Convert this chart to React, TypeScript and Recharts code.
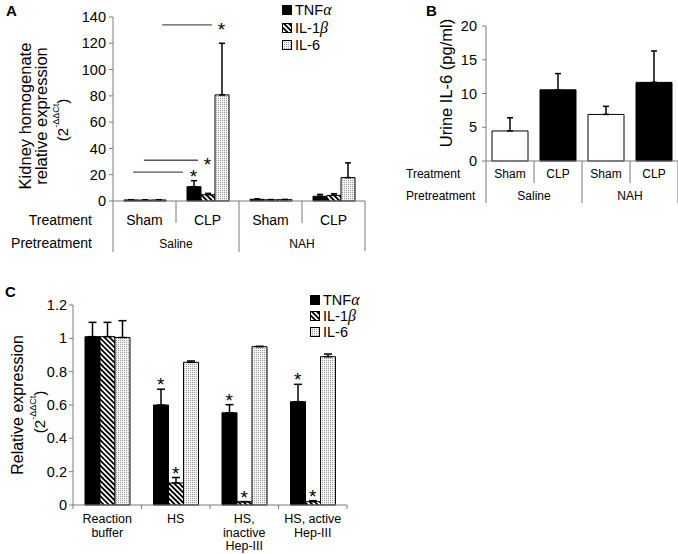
import React from 'react';
import { BarChart, Bar, XAxis, YAxis, ErrorBar, Cell, ReferenceLine, ReferenceDot, Legend } from 'recharts';

// ---------------- Panel A data ----------------
const aKeys = ['saline-sham', 'saline-clp', 'nah-sham', 'nah-clp'];
const aTreatment = ['Sham', 'CLP', 'Sham', 'CLP'];
const aPretreatment = ['Saline', 'NAH'];
const aTnf = [0.8, 10.9, 1.3, 3.6];
const aTnfTop = [1.0, 15.5, 1.6, 5.0];
const aIl1b = [0.7, 4.8, 0.9, 4.3];
const aIl1bTop = [0.9, 5.8, 1.1, 5.5];
const aIl6 = [0.8, 80.7, 1.0, 17.8];
const aIl6Top = [1.0, 120, 1.2, 29];
const aTicks = [0, 20, 40, 60, 80, 100, 120, 140];
// significance lines: from/to in category units, y in data units, star above series bar of category
const aSig = [
  { from: 0.32, to: 1.11, y: 22, cat: 1, series: 0 },
  { from: 0.49, to: 1.35, y: 31, cat: 1, series: 1 },
  { from: 0.78, to: 1.57, y: 134, cat: 1, series: 2 },
];

// ---------------- Panel B data ----------------
const bKeys = ['saline-sham', 'saline-clp', 'nah-sham', 'nah-clp'];
const bTreatment = ['Sham', 'CLP', 'Sham', 'CLP'];
const bPretreatment = ['Saline', 'NAH'];
const bValues = [4.45, 10.55, 6.9, 11.65];
const bTop = [6.4, 12.95, 8.1, 16.3];
const bFills = ['#ffffff', '#000000', '#ffffff', '#000000'];
const bTicks = [0, 5, 10, 15, 20];

// ---------------- Panel C data ----------------
const cCategories = ['Reaction\nbuffer', 'HS', 'HS,\ninactive\nHep-III', 'HS, active\nHep-III'];
const cTnf = [1.01, 0.6, 0.553, 0.62];
const cTnfTop = [1.096, 0.695, 0.602, 0.724];
const cIl1b = [1.01, 0.132, 0.02, 0.02];
const cIl1bTop = [1.096, 0.165, 0.02, 0.026];
const cIl6 = [1.005, 0.856, 0.95, 0.89];
const cIl6Top = [1.106, 0.864, 0.952, 0.906];
const cTnfStar = [false, true, true, true];
const cIl1bStar = [false, true, true, true];
const cIl6Star = [false, false, false, false];
const cTicks = [0, 0.2, 0.4, 0.6, 0.8, 1, 1.2];

const seriesNames = ['TNFα', 'IL-1β', 'IL-6'];

// ---------------- layout / style ----------------
const FONT = '"Liberation Sans", Arial, Helvetica, sans-serif';
const AXIS = '#7a7a7a';
const YW = 40; // y axis box width
const XH = 40; // x axis box height

const A_W = 370, A_H = 270;
const A_PLOT = { top: 17, right: 5, bottom: 69, left: 113 };
const A_M = { top: A_PLOT.top, right: A_PLOT.right, bottom: A_PLOT.bottom - XH, left: A_PLOT.left - YW };
const A_BAR = 14;
const A_BAND = (A_W - A_PLOT.left - A_PLOT.right) / aKeys.length;

const B_W = 340, B_H = 215;
const B_PLOT = { top: 26, right: 2, bottom: 54, left: 146 };
const B_M = { top: B_PLOT.top, right: B_PLOT.right, bottom: B_PLOT.bottom - XH, left: B_PLOT.left - YW };
const B_BAR = 36;
const B_BAND = (B_W - B_PLOT.left - B_PLOT.right) / bKeys.length;

const C_W = 360, C_H = 274;
const C_PLOT = { top: 25, right: 13, bottom: 49, left: 73 };
const C_M = { top: C_PLOT.top, right: C_PLOT.right, bottom: C_PLOT.bottom - XH, left: C_PLOT.left - YW };
const C_BAR = 15;
const C_BAND = (C_W - C_PLOT.left - C_PLOT.right) / cCategories.length;

const aData = aKeys.map((k, i) => ({
  key: k,
  pos: i + 0.5,
  tnf: aTnf[i], tnfErr: [0, aTnfTop[i] - aTnf[i]],
  il1b: aIl1b[i], il1bErr: [0, aIl1bTop[i] - aIl1b[i]],
  il6: aIl6[i], il6Err: [0, aIl6Top[i] - aIl6[i]],
}));
const bData = bKeys.map((k, i) => ({ key: k, v: bValues[i], err: [0, bTop[i] - bValues[i]] }));
const cData = cCategories.map((k, i) => ({
  key: k,
  pos: i + 0.5,
  tnf: cTnf[i], tnfErr: [0, cTnfTop[i] - cTnf[i]],
  il1b: cIl1b[i], il1bErr: [0, cIl1bTop[i] - cIl1b[i]],
  il6: cIl6[i], il6Err: [0, cIl6Top[i] - cIl6[i]],
}));

const cStars: { x: number; y: number }[] = [];
[[cTnfStar, cTnfTop], [cIl1bStar, cIl1bTop], [cIl6Star, cIl6Top]].forEach(([flags, tops]: any, s) => {
  flags.forEach((f: boolean, i: number) => {
    if (f) cStars.push({ x: i + 0.5 + ((s - 1) * C_BAR) / C_BAND, y: tops[i] });
  });
});

const patternDefs = (id: string) => (
  <defs>
    <pattern id={`hatch${id}`} patternUnits="userSpaceOnUse" width={3.6} height={3.6} patternTransform="rotate(-45)">
      <rect width={3.6} height={3.6} fill="#fff" />
      <rect width={1.8} height={3.6} fill="#000" />
    </pattern>
    <pattern id={`dots${id}`} patternUnits="userSpaceOnUse" width={2} height={2}>
      <rect width={2} height={2} fill="#f4f4f4" />
      <rect width={1} height={1} fill="#9a9a9a" />
    </pattern>
  </defs>
);

const starShape = (shift: number) => (p: any) => (
  <text x={p.cx} y={p.cy - shift + 11} textAnchor="middle" fontSize={19} fontFamily={FONT} fill="#000">*</text>
);

function renderName(name: string) {
  const last = name.slice(-1);
  if (/[α-ω]/.test(last)) {
    return (
      <span>
        {name.slice(0, -1)}
        <i style={{ fontFamily: '"Liberation Serif", "DejaVu Serif", serif', fontSize: 16 }}>{last}</i>
      </span>
    );
  }
  return <span>{name}</span>;
}

const makeLegend = (rowH: number) => (props: any) => {
  const items = [...(props.payload || [])].sort(
    (a: any, b: any) => seriesNames.indexOf(a.value) - seriesNames.indexOf(b.value)
  );
  return (
    <div style={{ fontFamily: FONT, fontSize: 14.5, color: '#000' }}>
      {items.map((p: any) => (
        <div key={p.value} style={{ display: 'flex', alignItems: 'center', height: rowH, whiteSpace: 'nowrap' }}>
          <svg width={10} height={10} style={{ marginRight: 3, display: 'block' }}>
            <rect x={0.5} y={0.5} width={9} height={9} fill={p.color || (p.payload && p.payload.fill)} stroke="#000" />
          </svg>
          {renderName(p.value)}
        </div>
      ))}
    </div>
  );
};

function ATick(props: any) {
  const { x, y, payload } = props;
  const i = payload.index;
  const xl = x - A_BAND / 2;
  const xr = x + A_BAND / 2;
  const n = aTreatment.length;
  return (
    <g fontFamily={FONT}>
      <line x1={xl} x2={xl} y1={y} y2={y + (i % 2 === 0 ? 51 : 22)} stroke={AXIS} />
      {i === n - 1 && <line x1={xr} x2={xr} y1={y} y2={y + 50} stroke={AXIS} />}
      <text x={x} y={y + 19} textAnchor="middle" dominantBaseline="central" fontSize={14} fill="#000">{aTreatment[i]}</text>
      {i % 2 === 0 && (
        <text x={xr} y={y + 43} textAnchor="middle" dominantBaseline="central" fontSize={12} fill="#000">{aPretreatment[i / 2]}</text>
      )}
      {i === 0 && (
        <>
          <text x={xl - 21} y={y + 19} textAnchor="end" dominantBaseline="central" fontSize={14} fill="#000">Treatment</text>
          <text x={xl - 21} y={y + 42} textAnchor="end" dominantBaseline="central" fontSize={14} fill="#000">Pretreatment</text>
        </>
      )}
    </g>
  );
}

function BTick(props: any) {
  const { x, y, payload } = props;
  const i = payload.index;
  const xl = x - B_BAND / 2;
  const xr = x + B_BAND / 2;
  const n = bTreatment.length;
  return (
    <g fontFamily={FONT}>
      <line x1={xl} x2={xl} y1={y} y2={y + (i % 2 === 0 ? 42 : 22)} stroke={AXIS} />
      {i === n - 1 && <line x1={xr} x2={xr} y1={y} y2={y + 42} stroke={AXIS} />}
      <text x={x} y={y + 13} textAnchor="middle" dominantBaseline="central" fontSize={12} fill="#000">{bTreatment[i]}</text>
      {i % 2 === 0 && (
        <text x={xr} y={y + 35} textAnchor="middle" dominantBaseline="central" fontSize={12} fill="#000">{bPretreatment[i / 2]}</text>
      )}
      {i === 0 && (
        <>
          <text x={xl - 80} y={y + 13} textAnchor="start" dominantBaseline="central" fontSize={12} fill="#000">Treatment</text>
          <text x={xl - 80} y={y + 35} textAnchor="start" dominantBaseline="central" fontSize={12} fill="#000">Pretreatment</text>
        </>
      )}
    </g>
  );
}

function CTick(props: any) {
  const { x, y, payload } = props;
  const i = payload.index;
  const xl = x - C_BAND / 2;
  const xr = x + C_BAND / 2;
  const lines = cCategories[i].split('\n');
  return (
    <g fontFamily={FONT}>
      <line x1={xl} x2={xl} y1={y} y2={y + 4} stroke={AXIS} />
      {i === cCategories.length - 1 && <line x1={xr} x2={xr} y1={y} y2={y + 4} stroke={AXIS} />}
      {lines.map((t, k) => (
        <text key={k} x={x} y={y + 14 + k * 13.5} textAnchor="middle" dominantBaseline="central" fontSize={12.5} fill="#000">{t}</text>
      ))}
    </g>
  );
}

const yTick = { fontSize: 14.5, fill: '#000', fontFamily: FONT };

function PanelA() {
  return (
    <BarChart width={A_W} height={A_H} data={aData} margin={A_M} barGap={0} style={{ fontFamily: FONT }}>
      {patternDefs('A')}
      <XAxis dataKey="key" height={XH} tickSize={0} tickMargin={0} tickLine={false} interval={0} axisLine={{ stroke: AXIS }} tick={ATick} />
      <XAxis xAxisId="n" dataKey="pos" type="number" domain={[0, aKeys.length]} allowDataOverflow hide />
      <YAxis width={YW} domain={[0, 140]} ticks={aTicks} interval={0} tickSize={4} tickMargin={3} axisLine={{ stroke: AXIS }} tickLine={{ stroke: AXIS }} tick={yTick} />
      <Legend layout="vertical" verticalAlign="middle" align="center" wrapperStyle={{ left: 282, top: 1.25 }} content={makeLegend(17.5)} />
      <Bar dataKey="tnf" name={seriesNames[0]} fill="#000" stroke="#000" barSize={A_BAR} isAnimationActive={false}>
        <ErrorBar dataKey="tnfErr" width={3} stroke="#000" direction="y" />
      </Bar>
      <Bar dataKey="il1b" name={seriesNames[1]} fill="url(#hatchA)" stroke="#000" barSize={A_BAR} isAnimationActive={false}>
        <ErrorBar dataKey="il1bErr" width={3} stroke="#000" direction="y" />
      </Bar>
      <Bar dataKey="il6" name={seriesNames[2]} fill="url(#dotsA)" stroke="#000" barSize={A_BAR} isAnimationActive={false}>
        <ErrorBar dataKey="il6Err" width={3} stroke="#000" direction="y" />
      </Bar>
      {aSig.map((s, k) => (
        <ReferenceLine key={`l${k}`} xAxisId="n" segment={[{ x: s.from, y: s.y }, { x: s.to, y: s.y }]} stroke="#555" strokeWidth={1.3} />
      ))}
      {aSig.map((s, k) => (
        <ReferenceDot key={`s${k}`} xAxisId="n" x={s.cat + 0.5 + ((s.series - 1) * A_BAR) / A_BAND} y={s.y} r={2} shape={starShape(0)} />
      ))}
    </BarChart>
  );
}

function PanelB() {
  return (
    <BarChart width={B_W} height={B_H} data={bData} margin={B_M} style={{ fontFamily: FONT }}>
      <XAxis dataKey="key" height={XH} tickSize={0} tickMargin={0} tickLine={false} interval={0} axisLine={{ stroke: AXIS }} tick={BTick} />
      <YAxis width={YW} domain={[0, 20]} ticks={bTicks} interval={0} tickSize={4} tickMargin={5} axisLine={{ stroke: AXIS }} tickLine={{ stroke: AXIS }} tick={yTick} />
      <Bar dataKey="v" stroke="#000" barSize={B_BAR} isAnimationActive={false}>
        {bData.map((d, i) => (
          <Cell key={d.key} fill={bFills[i]} />
        ))}
        <ErrorBar dataKey="err" width={3} stroke="#000" direction="y" />
      </Bar>
    </BarChart>
  );
}

function PanelC() {
  return (
    <BarChart width={C_W} height={C_H} data={cData} margin={C_M} barGap={0} style={{ fontFamily: FONT }}>
      {patternDefs('C')}
      <XAxis dataKey="key" height={XH} tickSize={0} tickMargin={0} tickLine={false} interval={0} axisLine={{ stroke: AXIS }} tick={CTick} />
      <XAxis xAxisId="n" dataKey="pos" type="number" domain={[0, cCategories.length]} allowDataOverflow hide />
      <YAxis width={YW} domain={[0, 1.2]} ticks={cTicks} interval={0} tickSize={4} tickMargin={2} axisLine={{ stroke: AXIS }} tickLine={{ stroke: AXIS }} tick={yTick} />
      <Legend layout="vertical" verticalAlign="middle" align="center" wrapperStyle={{ left: 310, top: 12 }} content={makeLegend(16)} />
      <Bar dataKey="tnf" name={seriesNames[0]} fill="#000" stroke="#000" barSize={C_BAR} isAnimationActive={false}>
        <ErrorBar dataKey="tnfErr" width={4} stroke="#000" direction="y" />
      </Bar>
      <Bar dataKey="il1b" name={seriesNames[1]} fill="url(#hatchC)" stroke="#000" barSize={C_BAR} isAnimationActive={false}>
        <ErrorBar dataKey="il1bErr" width={4} stroke="#000" direction="y" />
      </Bar>
      <Bar dataKey="il6" name={seriesNames[2]} fill="url(#dotsC)" stroke="#000" barSize={C_BAR} isAnimationActive={false}>
        <ErrorBar dataKey="il6Err" width={4} stroke="#000" direction="y" />
      </Bar>
      {cStars.map((s, k) => (
        <ReferenceDot key={k} xAxisId="n" x={s.x} y={s.y} r={2} shape={starShape(9)} />
      ))}
    </BarChart>
  );
}

function Labels() {
  const t = { fontFamily: FONT, fill: '#000' } as const;
  return (
    <svg width={678} height={554} style={{ position: 'absolute', left: 0, top: 0, pointerEvents: 'none' }}>
      <text x={6} y={16} fontSize={15} fontWeight="bold" {...t}>A</text>
      <text x={426} y={16} fontSize={15} fontWeight="bold" {...t}>B</text>
      <text x={5} y={297} fontSize={15} fontWeight="bold" {...t}>C</text>

      <text transform="translate(25,116) rotate(-90)" textAnchor="middle" dominantBaseline="central" fontSize={16.5} {...t}>Kidney homogenate</text>
      <text transform="translate(41,116) rotate(-90)" textAnchor="middle" dominantBaseline="central" fontSize={16.5} {...t}>relative expression</text>
      <text transform="translate(62,120) rotate(-90)" textAnchor="middle" dominantBaseline="central" fontSize={15} {...t}>
        <tspan>(2</tspan>
        <tspan fontSize={9} dy={-6}>-ΔΔCt</tspan>
        <tspan dy={6}>)</tspan>
      </text>

      <text transform="translate(446,83) rotate(-90)" textAnchor="middle" dominantBaseline="central" fontSize={16.5} {...t}>Urine IL-6 (pg/ml)</text>

      <text transform="translate(17,405) rotate(-90)" textAnchor="middle" dominantBaseline="central" fontSize={16} {...t}>Relative expression</text>
      <text transform="translate(39,412) rotate(-90)" textAnchor="middle" dominantBaseline="central" fontSize={15} {...t}>
        <tspan>(2</tspan>
        <tspan fontSize={9} dy={-6}>-ΔΔCt</tspan>
        <tspan dy={6}>)</tspan>
      </text>
    </svg>
  );
}

export default function App() {
  return (
    <div style={{ position: 'absolute', left: 0, top: 0, width: 678, height: 554, overflow: 'hidden', background: '#fff', fontFamily: FONT }}>
      <div style={{ position: 'absolute', left: 0, top: 0 }}>
        <PanelA />
      </div>
      <div style={{ position: 'absolute', left: 340, top: 0 }}>
        <PanelB />
      </div>
      <div style={{ position: 'absolute', left: 0, top: 280 }}>
        <PanelC />
      </div>
      <Labels />
    </div>
  );
}
